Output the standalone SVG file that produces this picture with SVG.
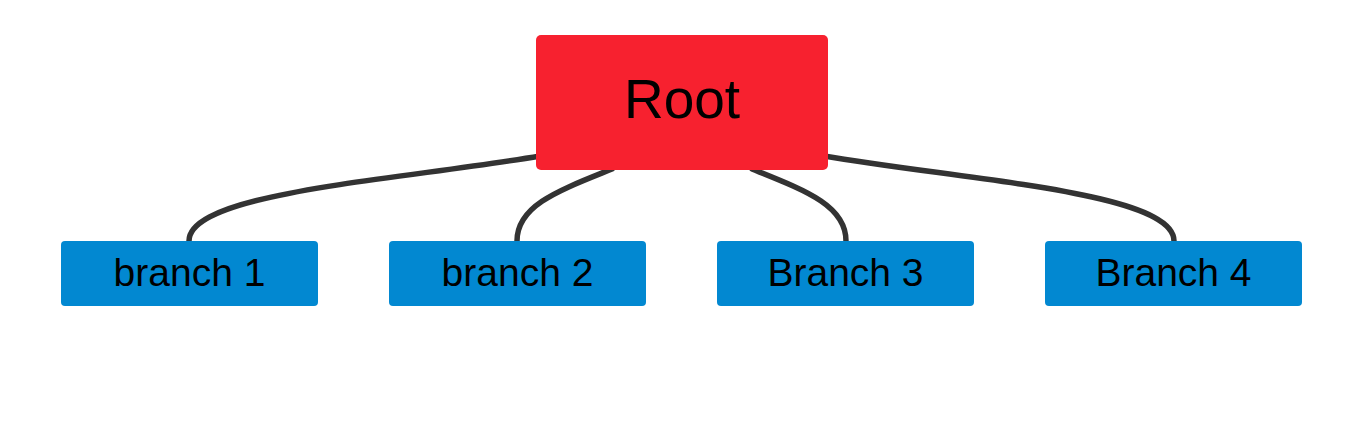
<svg xmlns="http://www.w3.org/2000/svg" width="1354" height="426" viewBox="0 0 1354 426">
<style>
.conn{fill:none;stroke:#333333;stroke-width:5.5;stroke-linecap:round}
.root{fill:#f7212f}
.branch{fill:#0288d1}
.t{font-family:"Liberation Sans",Arial,sans-serif;fill:#000;text-anchor:middle}
.rt{font-size:55px}
.bt{font-size:39px}
</style>
<rect width="1354" height="426" fill="#ffffff"/>
<g id="connectors">
<path class="conn" d="M540,156 C400,180 189,192 189,241"/>
<path class="conn" d="M612,169 C560,190 517,205 517,241"/>
<path class="conn" d="M752,169 C804,190 846,205 846,241"/>
<path class="conn" d="M824,156 C964,180 1174,192 1174,241"/>
</g>
<g id="root">
<rect class="root" x="536" y="35" width="292" height="135" rx="5"/>
<text class="t rt" x="682" y="118">Root</text>
</g>
<g id="branch1">
<rect class="branch" x="61" y="241" width="257" height="65" rx="4"/>
<text class="t bt" x="189.5" y="286">branch 1</text>
</g>
<g id="branch2">
<rect class="branch" x="389" y="241" width="257" height="65" rx="4"/>
<text class="t bt" x="517.5" y="286">branch 2</text>
</g>
<g id="branch3">
<rect class="branch" x="717" y="241" width="257" height="65" rx="4"/>
<text class="t bt" x="845.5" y="286">Branch 3</text>
</g>
<g id="branch4">
<rect class="branch" x="1045" y="241" width="257" height="65" rx="4"/>
<text class="t bt" x="1173.5" y="286">Branch 4</text>
</g>
</svg>
